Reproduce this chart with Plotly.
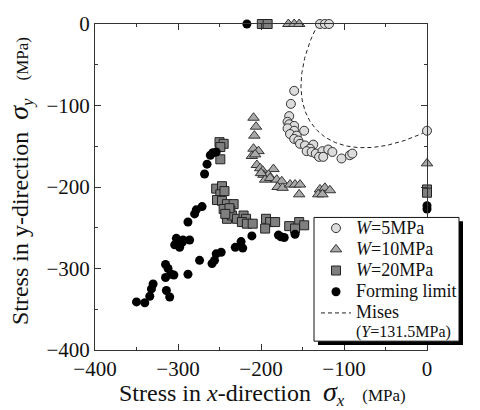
import numpy as np
import plotly.graph_objects as go

# ---- data (MPa) ----
w5_x = [-129, -123, -118, 0, -160, -164, -166, -168, -166, -160, -168, -160, -148, -165, -157, -160,
        -155, -153, -147, -137, -141, -145, -139, -134, -126, -119, -114, -130, -125, -103, -93, -90]
w5_y = [0, 0, 0, -131, -82, -98, -113, -120, -123, -125, -128, -131, -131, -135, -137, -141,
        -143, -147, -149, -148, -153, -156, -157, -159, -156, -154, -157, -163, -163, -165, -161, -159]

w10_x = [-167, -160, -154, 0, -209, -206, -208, -209, -203, -211, -205, -201, -198, -185, -197, -191,
         -195, -189, -181, -175, -180, -174, -165, -159, -153, -154, -129, -123, -117, -131, -126, -207, -200]
w10_y = [0, 0, 0, -171, -115, -126, -137, -153, -156, -162, -173, -177, -180, -178, -185, -185,
         -191, -189, -191, -193, -200, -201, -197, -197, -197, -209, -203, -201, -204, -209, -209, -160, -183]

w20_x = [-199, -192, 0, 0, -250, -245, -249, -249, -254, -247, -249, -253, -247, -241, -233, -245,
         -237, -241, -235, -229, -221, -218, -223, -217, -210, -194, -189, -183, -195, -166, -154, -148,
         -159, -244, -238, -243]
w20_y = [0, 0, -203, -207, -145, -147, -151, -166, -202, -199, -209, -216, -217, -221, -221, -227,
         -229, -239, -235, -239, -235, -239, -243, -245, -245, -239, -243, -243, -251, -248, -243, -247,
         -251, -205, -226, -233]

fl_x = [-217, 0, 0, -254, -258, -261, -265, -268, -271, -278, -280, -288, -302, -294, -286, -304,
        -298, -295, -315, -312, -315, -305, -308, -288, -330, -332, -334, -340, -350, -314, -310,
        -274, -259, -256, -254, -248, -231, -224, -222, -211, -179, -176, -172, -159]
fl_y = [0, -223, -227, -157, -158, -161, -172, -184, -224, -228, -233, -243, -263, -265, -265, -271,
        -274, -268, -295, -300, -311, -308, -307, -307, -319, -325, -334, -342, -341, -327, -335,
        -290, -294, -290, -282, -280, -274, -267, -275, -260, -259, -261, -262, -258]

mises_Y = 131.5  # yield stress for the Mises curve

x_ticks = [-400, -300, -200, -100, 0]
y_ticks = [-400, -300, -200, -100, 0]

# Mises ellipse sx^2 - sx*sy + sy^2 = Y^2, compression quadrant
t = np.linspace(4 * np.pi / 3, 2 * np.pi / 3, 120)
mises_x = mises_Y * (np.cos(t) + np.sin(t) / np.sqrt(3))
mises_y = mises_Y * (np.cos(t) - np.sin(t) / np.sqrt(3))

SERIF = "Liberation Serif"

def lg_name(s):
    return "<span style='font-size:18px'>" + s + "</span>"

fig = go.Figure()
fig.add_trace(go.Scatter(x=mises_x, y=mises_y, mode="lines",
                         line=dict(color="#222", width=1, dash="4px,3px"),
                         name=lg_name("Mises") + "<br><span style='font-size:16px'>(<i>Y</i>=131.5MPa)</span>",
                         legendrank=5, cliponaxis=False))
fig.add_trace(go.Scatter(x=w5_x, y=w5_y, mode="markers", name=lg_name("<i>W</i>=5MPa"), legendrank=1,
                         marker=dict(symbol="circle", size=9, color="#dcdcdc",
                                     line=dict(color="#333", width=1)), cliponaxis=False))
fig.add_trace(go.Scatter(x=w10_x, y=w10_y, mode="markers", name=lg_name("<i>W</i>=10MPa"), legendrank=2,
                         marker=dict(symbol="triangle-up", size=10, color="#a9a9a9",
                                     line=dict(color="#333", width=1)), cliponaxis=False))
fig.add_trace(go.Scatter(x=w20_x, y=w20_y, mode="markers", name=lg_name("<i>W</i>=20MPa"), legendrank=3,
                         marker=dict(symbol="square", size=9, color="#7f7f7f",
                                     line=dict(color="#222", width=1)), cliponaxis=False))
fig.add_trace(go.Scatter(x=fl_x, y=fl_y, mode="markers", name=lg_name("Forming limit"), legendrank=4,
                         marker=dict(symbol="circle", size=9, color="#000",
                                     line=dict(color="#000", width=0)), cliponaxis=False))

axis_common = dict(
    showgrid=False, zeroline=False, showline=True, linecolor="#333", linewidth=1,
    mirror="ticks", ticks="inside", ticklen=6, tickcolor="#333", tickwidth=1,
    tickfont=dict(family=SERIF, size=21, color="#111"),
    minor=dict(dtick=50, ticks="inside", ticklen=3, tickcolor="#333", tickwidth=1, showgrid=False),
)
fig.update_xaxes(range=[-400, 0], tickvals=x_ticks, **axis_common)
fig.update_yaxes(range=[-400, 0], tickvals=y_ticks, **axis_common)

L, R, T, B = 95, 53, 18, 60
W, H = 480, 410
pw, ph = W - L - R, H - T - B

def px2paper(px, py):
    return (px - L) / pw, (H - B - py) / ph

NB = "\u00a0"
# axis titles
xt = px2paper(262, 394)
fig.add_annotation(
    x=xt[0], y=xt[1], xref="paper", yref="paper", showarrow=False, xanchor="center", yanchor="middle",
    borderpad=0,
    text="Stress in <i>x</i>-direction" + NB * 2 + "<span style='font-size:28px'><i>σ</i></span><sub><i>x</i></sub>"
         + NB * 3 + "<span style='font-size:17px'>(MPa)</span>",
    font=dict(family=SERIF, size=24, color="#111"))
yt = px2paper(20, 178)
fig.add_annotation(
    x=yt[0], y=yt[1], xref="paper", yref="paper", showarrow=False, xanchor="center", yanchor="middle",
    textangle=-90, borderpad=0,
    text="Stress in y-direction" + NB * 2 + "<span style='font-size:28px'><i>σ</i></span><sub><i>y</i></sub>"
         + NB * 3 + "<span style='font-size:17px'>(MPa)</span>",
    font=dict(family=SERIF, size=24, color="#111"))

# legend box with drop shadow
s0 = px2paper(318, 345)
s1 = px2paper(463, 219)
fig.add_shape(type="rect", xref="paper", yref="paper", x0=s0[0], y0=s0[1], x1=s1[0], y1=s1[1],
              fillcolor="#000", line=dict(width=0), layer="above")
b0 = px2paper(314, 341)
b1 = px2paper(459, 215)
fig.add_shape(type="rect", xref="paper", yref="paper", x0=b0[0], y0=b0[1], x1=b1[0], y1=b1[1],
              fillcolor="white", line=dict(color="#111", width=1), layer="above")

lg = px2paper(316, 210)
fig.update_layout(
    width=W, height=H, margin=dict(l=L, r=R, t=T, b=B),
    plot_bgcolor="white", paper_bgcolor="white",
    showlegend=True,
    legend=dict(x=lg[0], y=lg[1], xanchor="left", yanchor="top", bgcolor="rgba(0,0,0,0)",
                borderwidth=0, font=dict(family=SERIF, size=14, color="#111"),
                valign="top", tracegroupgap=0, itemwidth=30),
)

fig.write_html("out.html")
